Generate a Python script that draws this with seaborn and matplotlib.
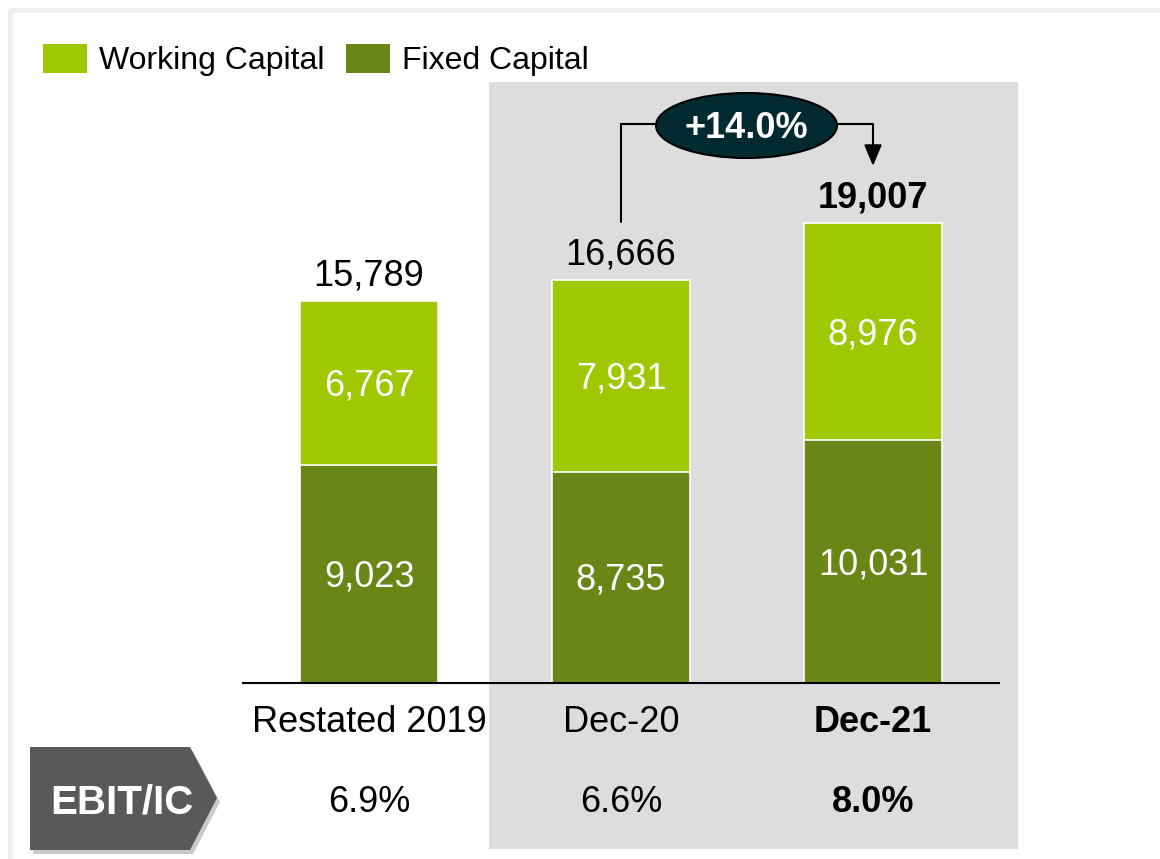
import matplotlib
matplotlib.use("Agg")
import matplotlib.pyplot as plt
import matplotlib.transforms as mtransforms
from matplotlib.patches import Polygon, Rectangle, Ellipse, Patch
from matplotlib.lines import Line2D
import seaborn as sns
import pandas as pd

# ---- data ----
categories = ["Restated 2019", "Dec-20", "Dec-21"]
fixed_capital = [9023, 8735, 10031]
working_capital = [6767, 7931, 8976]
totals = [15789, 16666, 19007]
ebit_ic = ["6.9%", "6.6%", "8.0%"]
growth_label = "+14.0%"
legend_labels = ["Working Capital", "Fixed Capital"]

WORK_C = "#A0C800"
FIX_C = "#688717"
GRAY_BG = "#DDDDDD"

sns.set_theme(style="white")
plt.rcParams["font.family"] = ["Liberation Sans", "DejaVu Sans"]
plt.rcParams["text.color"] = "black"

W, H = 1160, 859
fig = plt.figure(figsize=(W / 100, H / 100), dpi=100)
fig.patch.set_facecolor("white")

# pixel transform (x from left, y from top)
pix = mtransforms.Affine2D().scale(1 / W, -1 / H).translate(0, 1) + fig.transFigure

UPP = 41.33  # data units per pixel
BASE = 683
DY = 3  # text nudge (px)
ax = fig.add_axes([243 / W, (H - BASE) / H, 756 / W, BASE / H])
ax.patch.set_alpha(0)


def ypx(p):
    return (BASE - p) * UPP


def xpx(p):
    return (p - 369) / 252


# frame and highlight background
fig.add_artist(Line2D([10, W], [10, 10], transform=pix, color="#EFEFEF", lw=3.5, zorder=-2))
fig.add_artist(Line2D([10, 10], [10, H], transform=pix, color="#EFEFEF", lw=3.5, zorder=-2))
fig.add_artist(Rectangle((489, 82), 529, 767, transform=pix, facecolor=GRAY_BG,
                         edgecolor="none", zorder=-1))

df = pd.DataFrame({"cat": categories, "fixed": fixed_capital,
                   "work": working_capital, "total": totals})

sns.barplot(data=df, x="cat", y="total", color=WORK_C, saturation=1, width=0.548,
            edgecolor="white", linewidth=1.2, ax=ax, zorder=2)
sns.barplot(data=df, x="cat", y="fixed", color=FIX_C, saturation=1, width=0.548,
            edgecolor="white", linewidth=1.2, ax=ax, zorder=3)

ax.set_xlim(-0.5, 2.5)
ax.set_ylim(0, BASE * UPP)
ax.set_xlabel("")
ax.set_ylabel("")
ax.set_xticks([])
ax.set_yticks([])
for s in ["top", "left", "right"]:
    ax.spines[s].set_visible(False)
ax.spines["bottom"].set_color("black")
ax.spines["bottom"].set_linewidth(1.5)
ax.spines["bottom"].set_zorder(4)

FS = 26
nud = DY * UPP
for i, cat in enumerate(categories):
    bold = "bold" if i == 2 else "normal"
    ax.annotate(f"{totals[i]:,}", xy=(i, totals[i]), xytext=(0, (28 - DY) * 0.72),
                textcoords="offset points", ha="center", va="center",
                fontsize=FS, fontweight=bold, color="black")
    ax.text(i, fixed_capital[i] / 2 - nud, f"{fixed_capital[i]:,}", ha="center", va="center",
            fontsize=FS, color="white", zorder=5)
    ax.text(i, fixed_capital[i] + working_capital[i] / 2 - nud, f"{working_capital[i]:,}",
            ha="center", va="center", fontsize=FS, color="white", zorder=5)
    ax.text(i, ypx(719 + DY), cat, ha="center", va="center", fontsize=FS,
            fontweight=bold, color="black", clip_on=False)
    ax.text(i, ypx(800 + DY), ebit_ic[i], ha="center", va="center", fontsize=FS,
            fontweight=bold, color="black", clip_on=False)

# growth connector
yline = ypx(124)
ax.plot([1, 1, xpx(656)], [ypx(222), yline, yline], color="black", lw=1.5,
        clip_on=False, solid_joinstyle="miter")
ax.plot([xpx(837), 2], [yline, yline], color="black", lw=1.5, clip_on=False)
ax.annotate("", xy=(2, ypx(166)), xytext=(2, yline),
            arrowprops=dict(arrowstyle="-|>,head_length=1.08,head_width=0.45",
                            lw=1.5, color="black", shrinkA=0, shrinkB=0))
ax.add_patch(Ellipse((xpx(746.5), ypx(125.5)), 181 / 252, 65 * UPP,
                     facecolor="#032A30", edgecolor="black", lw=1.5, clip_on=False, zorder=6))
ax.text(xpx(746.5), ypx(125.5 + DY), growth_label, ha="center", va="center", fontsize=26,
        fontweight="bold", color="white", zorder=7)

# EBIT/IC tag
pent = [(30, 747), (190, 747), (217, 798), (190, 850), (30, 850)]
shadow = [(x + 3, y + 4) for x, y in pent]
fig.add_artist(Polygon(shadow, closed=True, transform=pix, facecolor="#A8A8A8",
                       edgecolor="none", alpha=0.6, zorder=1))
fig.add_artist(Polygon(pent, closed=True, transform=pix, facecolor="#595959",
                       edgecolor="none", zorder=2))
fig.text(122 / W, 1 - (799 + DY) / H, "EBIT/IC", ha="center", va="center", fontsize=29,
         fontweight="bold", color="white", zorder=3)

# legend
handles = [Patch(facecolor=WORK_C, edgecolor="none"), Patch(facecolor=FIX_C, edgecolor="none")]
LFS = 23
fpx = LFS / 0.72
leg = fig.legend(handles, legend_labels, loc="center left", bbox_to_anchor=(43 / W, 1 - 60 / H),
                 ncol=2, frameon=False, fontsize=LFS, handlelength=44 / fpx, handleheight=33 / fpx,
                 handletextpad=12 / fpx, columnspacing=21 / fpx, borderpad=0, borderaxespad=0)
for t in leg.get_texts():
    t.set_color("black")

fig.savefig("out.png", dpi=100, facecolor="white")
